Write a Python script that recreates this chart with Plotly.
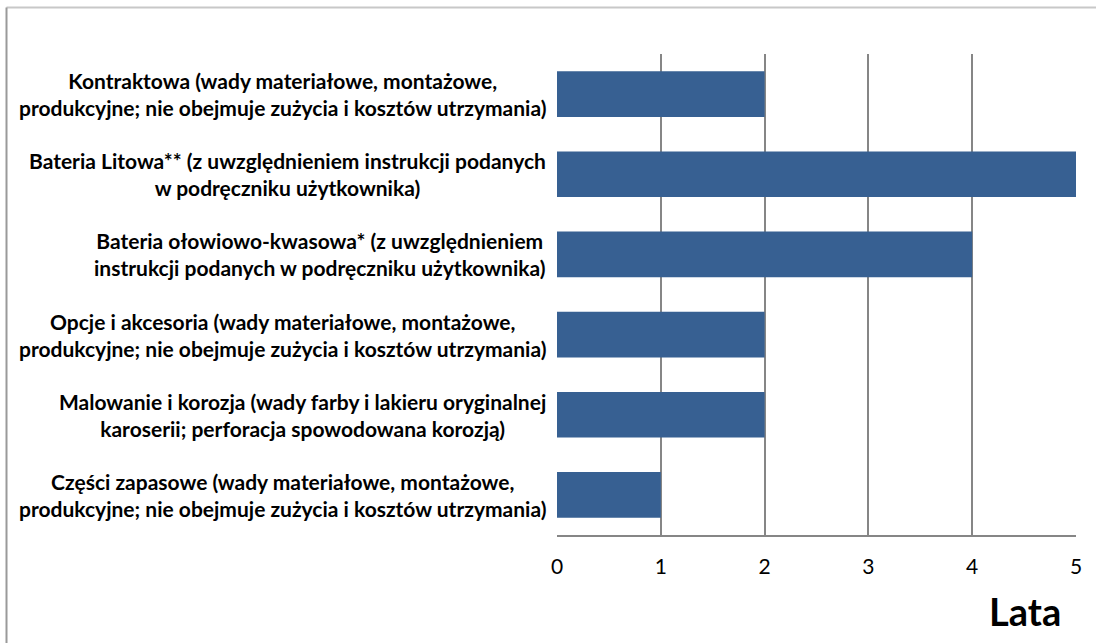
import plotly.graph_objects as go

categories = [
    "Kontraktowa (wady materiałowe, montażowe,<br>produkcyjne; nie obejmuje zużycia i kosztów utrzymania)",
    "Bateria Litowa** (z uwzględnieniem instrukcji podanych<br>w podręczniku użytkownika)",
    "Bateria ołowiowo-kwasowa* (z uwzględnieniem<br>instrukcji podanych w podręczniku użytkownika)",
    "Opcje i akcesoria (wady materiałowe, montażowe,<br>produkcyjne; nie obejmuje zużycia i kosztów utrzymania)",
    "Malowanie i korozja (wady farby i lakieru oryginalnej<br>karoserii; perforacja spowodowana korozją)",
    "Części zapasowe (wady materiałowe, montażowe,<br>produkcyjne; nie obejmuje zużycia i kosztów utrzymania)",
]
values = [2, 5, 4, 2, 2, 1]
tick_vals = [0, 1, 2, 3, 4, 5]
axis_title = "Lata"

ids = list(range(len(categories)))

fig = go.Figure()
fig.add_trace(go.Bar(
    y=ids, x=values, orientation="h",
    marker=dict(color="#376092", line=dict(width=0)),
    hoverinfo="x",
))

for i, c in zip(ids, categories):
    fig.add_annotation(
        x=0, xref="paper", y=i, yref="y", text=c, showarrow=False,
        xanchor="right", yanchor="middle", align="center", xshift=-9,
        font=dict(family="Lato", size=21, color="#000000", weight="bold"),
    )

fig.add_annotation(
    x=1.0, xref="paper", y=0, yref="paper", text=axis_title, showarrow=False,
    xanchor="right", yanchor="middle", yshift=-76, xshift=-13,
    font=dict(family="Lato", size=38, color="#000000", weight="bold"),
)

# outer chart border
W, L, R, T, B = 1096, 557, 20, 54, 108
pw = W - L - R
ph = 643 - T - B
x_left = (6.5 - L) / pw
y_top = (ph + T - 7.5) / ph
fig.add_shape(type="line", xref="paper", yref="paper", x0=x_left, x1=1.2,
              y0=y_top, y1=y_top, line=dict(color="#C8C8C8", width=2))
fig.add_shape(type="line", xref="paper", yref="paper", x0=x_left, x1=x_left,
              y0=y_top, y1=-0.5, line=dict(color="#9A9A9A", width=2))

fig.update_layout(
    width=1096, height=643,
    margin=dict(l=L, r=R, t=T, b=B),
    paper_bgcolor="white", plot_bgcolor="white",
    bargap=0.43,
    showlegend=False,
    xaxis=dict(range=[0, 5], tickvals=tick_vals, showgrid=True,
               gridcolor="#868686", gridwidth=2, zeroline=False,
               showline=True, linecolor="#868686", linewidth=2,
               ticks="", ticklen=0, tickfont=dict(family="Lato", size=21, color="#000"),
               fixedrange=True),
    yaxis=dict(showticklabels=False, showgrid=False, zeroline=False,
               showline=False, fixedrange=True),
)
fig.update_xaxes(ticklabelstandoff=12)
fig.update_yaxes(range=[5.5, -0.5], autorange=False)

fig.write_html("out.html", config={"displayModeBar": False},
               post_script="document.body.style.margin='0px';document.body.style.overflow='hidden';")
